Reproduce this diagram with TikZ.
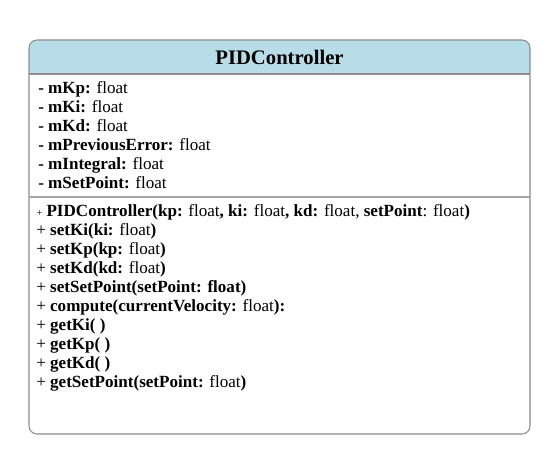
\documentclass[tikz,border=0pt]{standalone}
\usepackage{fontspec}
\setmainfont{Liberation Serif}
\usepackage{tikz}
\usetikzlibrary{positioning}

\definecolor{headblue}{HTML}{B8DDE8}
\definecolor{boxgray}{HTML}{8C8C8C}
\definecolor{linegray}{HTML}{A6A6A6}

\tikzset{
    member/.style={anchor=base west, inner sep=0pt,
        font=\fontsize{12.8pt}{15pt}\selectfont},
    classname/.style={anchor=base, inner sep=0pt,
        font=\fontsize{15.5pt}{18pt}\selectfont\bfseries},
}

\begin{document}
\begin{tikzpicture}[x=0.75pt, y=-0.75pt]
\useasboundingbox (0,0) rectangle (553,459);
% class box
\fill[headblue, rounded corners=6] (29,40) rectangle (530,74);
\fill[headblue] (29,60) rectangle (530,74);
\draw[boxgray, line width=0.8pt, rounded corners=6] (29,40) rectangle (530,434);
\draw[boxgray, line width=0.8pt] (29,74) -- (530,74);
\draw[linegray, line width=1.2pt] (29,197) -- (530,197);
\node[classname] (name) at (279.5,65) {PIDController};
% attributes
\foreach \txt [count=\i] in {
    {\textbf{- mKp:} float},
    {\textbf{- mKi:} float},
    {\textbf{- mKd:} float},
    {\textbf{- mPreviousError:} float},
    {\textbf{- mIntegral:} float},
    {\textbf{- mSetPoint:} float}}
    \node[member] (attr-\i) at (38,{94+(\i-1)*18.9}) {\txt};
% methods
\foreach \txt [count=\i] in {
    {{\footnotesize+} \textbf{PIDController(kp:} float\textbf{, ki:} float\textbf{, kd:} float, \textbf{setPoint}: float\textbf{)}},
    {+ \textbf{setKi(ki:} float\textbf{)}},
    {+ \textbf{setKp(kp:} float\textbf{)}},
    {+ \textbf{setKd(kd:} float\textbf{)}},
    {+ \textbf{setSetPoint(setPoint: float)}},
    {+ \textbf{compute(currentVelocity:} float\textbf{):}},
    {+ \textbf{getKi( )}},
    {+ \textbf{getKp( )}},
    {+ \textbf{getKd( )}},
    {+ \textbf{getSetPoint(setPoint:} float\textbf{)}}}
    \node[member] (meth-\i) at (36,{217+(\i-1)*18.9}) {\txt};
\end{tikzpicture}
\end{document}
